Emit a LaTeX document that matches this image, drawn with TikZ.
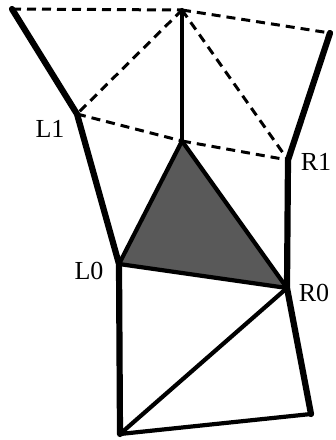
\documentclass[tikz,border=0pt]{standalone}
\usepackage{fontspec}
\setmainfont{Liberation Serif}
\begin{document}
\begin{tikzpicture}[x=1pt,y=-1pt,
  thickline/.style={line width=6.2pt,line join=round,line cap=round},
  medline/.style={line width=4.2pt,line join=round,line cap=round},
  dashline/.style={line width=3pt,dash pattern=on 9pt off 6pt},
  lbl/.style={font=\fontsize{26}{26}\selectfont,inner sep=0pt}]
\useasboundingbox (0,0) rectangle (336,440);
\coordinate (TL) at (12,9);
\coordinate (TC) at (182,10);
\coordinate (TR) at (330,33);
\coordinate (L1) at (77,114);
\coordinate (C) at (182,141);
\coordinate (R1) at (288,160);
\coordinate (L0) at (119,264);
\coordinate (R0) at (287,288);
\coordinate (B) at (120,434);
\coordinate (BR) at (311,414);
% shaded triangle
\fill[black!65] (C) -- (L0) -- (R0) -- cycle;
\draw[medline] (C) -- (L0) -- (R0) -- cycle;
% dashed
\draw[dashline] (TL) -- (TC);
\draw[dashline] (TC) -- (TR);
\draw[dashline] (TC) -- (L1);
\draw[dashline] (TC) -- (R1);
\draw[dashline] (L1) -- (C);
\draw[dashline] (C) -- (R1);
% solid
\draw[medline] (TC) -- (C);
\draw[thickline] (TL) -- (L1) -- (L0) -- (B);
\draw[thickline] (TR) -- (R1) -- (R0) -- (BR);
\draw[medline] (BR) -- (B) -- (R0);
% labels
\node[lbl] (l1) at (50,129) {L1};
\node[lbl] (l0) at (89,271) {L0};
\node[lbl] (r1) at (316,162) {R1};
\node[lbl] (r0) at (314,293) {R0};
\end{tikzpicture}
\end{document}
